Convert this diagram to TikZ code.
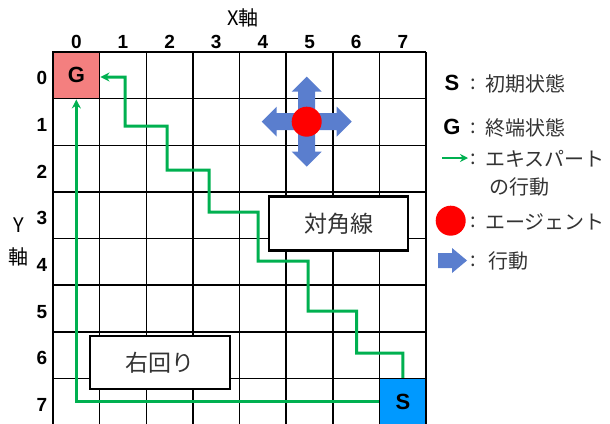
\documentclass[tikz,border=0pt]{standalone}
\usepackage{fontspec}
\setmainfont{Liberation Sans}
\newfontfamily\jp{Noto Sans CJK JP}
\usetikzlibrary{arrows.meta}
\definecolor{gfill}{HTML}{F47F7F}
\definecolor{sfill}{HTML}{0099FF}
\definecolor{expert}{HTML}{00B050}
\definecolor{actblue}{HTML}{5A7ECE}
\definecolor{txt}{HTML}{333333}
\tikzset{
  gridline/.style={line width=1.6pt, black},
  cellbox/.style={draw=black, line width=1.6pt, minimum width=46.65pt, minimum height=46.65pt, inner sep=0pt, font=\bfseries\fontsize{22}{22}\selectfont},
  num/.style={font=\bfseries\fontsize{19}{19}\selectfont, inner sep=0pt},
  axis/.style={font=\jp\fontsize{20}{20}\selectfont, inner sep=0pt},
  expertpath/.style={draw=expert, line width=3pt, -{Stealth[length=9pt,width=9pt]}},
  labelbox/.style={draw=black, line width=2.2pt, fill=white, inner sep=0pt, text=txt, font=\jp\fontsize{23}{23}\selectfont},
  legletter/.style={font=\bfseries\fontsize{22}{22}\selectfont, inner sep=0pt},
  legtext/.style={font=\jp\fontsize{20}{20}\selectfont, text=txt, inner sep=0pt, anchor=west},
  colon/.style={font=\jp\fontsize{20}{20}\selectfont, text=txt, inner sep=0pt},
  agent/.style={circle, fill=red, minimum size=30pt, inner sep=0pt},
  actarrow/.style={fill=actblue, draw=none}
}
\begin{document}
\begin{tikzpicture}[x=1pt,y=-1pt]
\useasboundingbox (0,0) rectangle (610,423);
\def\c{46.65}
% goal and start cells
\node[cellbox, fill=gfill] (G) at ({53+0.5*\c},{52+0.5*\c}) {G};
\node[cellbox, fill=sfill] (S) at ({53+7.5*\c},{52+7.5*\c}) {S};
% grid
\foreach \i in {0,...,8}{
  \draw[gridline] ({53+\i*\c},52) -- ({53+\i*\c},{52+8*\c});
  \draw[gridline] (53,{52+\i*\c}) -- ({53+8*\c},{52+\i*\c});
}
% axis numbers
\foreach \i in {0,...,7}{
  \node[num] (cx\i) at ({53+(\i+0.5)*\c},42) {\i};
  \node[num] (ry\i) at (42,{52+(\i+0.5)*\c+3}) {\i};
}
\node[axis] (xaxis) at (243,18) {X軸};
\node[axis] (yaxisY) at (19,225) {Y};
\node[axis] (yaxisJ) at (19,257) {軸};
% text boxes
\node[labelbox, minimum width=139pt, minimum height=54pt] (diag) at (338.5,223.5) {対角線};
\node[labelbox, minimum width=140pt, minimum height=53pt] (right) at (160,362.5) {右回り};
% expert paths
\coordinate (d1) at (402.8,353);
\coordinate (d2) at (356.7,353);
\coordinate (d3) at (356.7,311);
\coordinate (d4) at (308,311);
\coordinate (d5) at (308,261);
\coordinate (d6) at (258,261);
\coordinate (d7) at (258,212);
\coordinate (d8) at (209,212);
\coordinate (d9) at (209,170);
\coordinate (d10) at (167,170);
\coordinate (d11) at (167,126);
\coordinate (d12) at (125,126);
\coordinate (d13) at (125,77);
\draw[expertpath] (S.north) -- (d1) -- (d2) -- (d3) -- (d4) -- (d5) -- (d6) -- (d7) -- (d8) -- (d9) -- (d10) -- (d11) -- (d12) -- (d13) -- (G.east |- d13);
\draw[expertpath] (S.west) -| (G.south);
% four-way action arrow
\begin{scope}[shift={(306.7,121.7)}]
\fill[actblue] (-8.5,-8.5) -- (-8.5,-30) -- (-15,-30) -- (0,-45) -- (15,-30) -- (8.5,-30) -- (8.5,-8.5)
  -- (30,-8.5) -- (30,-15) -- (45,0) -- (30,15) -- (30,8.5) -- (8.5,8.5)
  -- (8.5,30) -- (15,30) -- (0,45) -- (-15,30) -- (-8.5,30) -- (-8.5,8.5)
  -- (-30,8.5) -- (-30,15) -- (-45,0) -- (-30,-15) -- (-30,-8.5) -- cycle;
\end{scope}
\node[agent] (agentdot) at (306.7,121.7) {};
% legend
\node[legletter] (lS) at (452,83) {S};
\node[colon] (c1) at (473,84) {:};
\node[legtext] (t1) at (485,84) {初期状態};
\node[legletter] (lG) at (452,127) {G};
\node[colon] (c2) at (473,128) {:};
\node[legtext] (t2) at (485,128) {終端状態};
\coordinate (ga) at (442,158);
\coordinate (gb) at (468,158);
\draw[draw=expert, line width=2.6pt, -{Stealth[length=8pt,width=8pt]}] (ga) -- (gb);
\node[colon] (c3) at (473,159) {:};
\node[legtext] (t3) at (485,159) {エキスパート};
\node[legtext] (t3b) at (489,187) {の行動};
\node[agent] (lagent) at (450.7,220.7) {};
\node[colon] (c4) at (473,222) {:};
\node[legtext] (t4) at (485,222) {エージェント};
\fill[actblue] (438,253) -- (452,253) -- (452,248) -- (467,260.5) -- (452,273) -- (452,268) -- (438,268) -- cycle;
\node[colon] (c5) at (473,261) {:};
\node[legtext] (t5) at (488,261) {行動};
\end{tikzpicture}
\end{document}
